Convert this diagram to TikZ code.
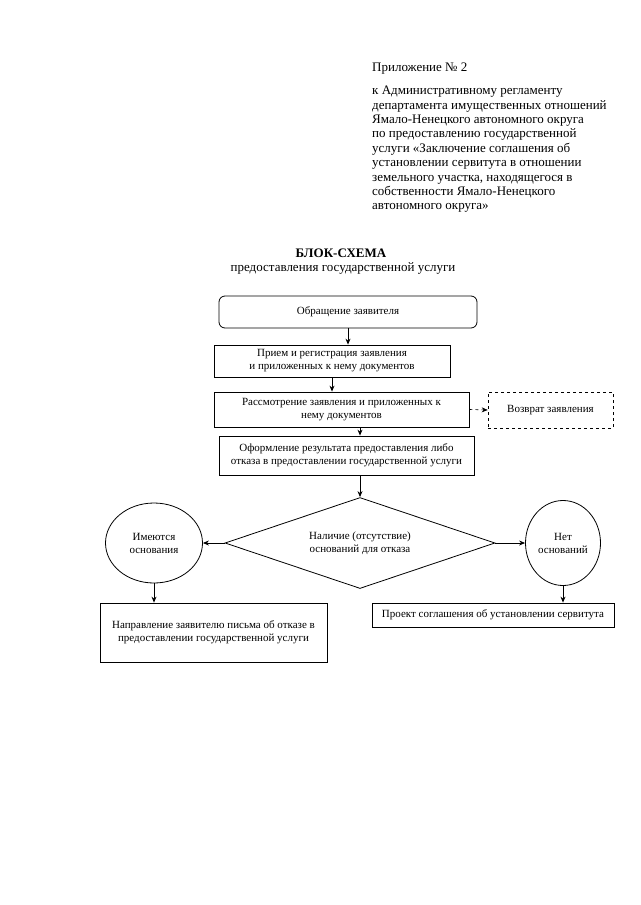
\documentclass[tikz,border=0pt]{standalone}
\usepackage{fontspec}
\setmainfont{Liberation Serif}
\usetikzlibrary{positioning,arrows.meta,shapes.geometric}

\begin{document}
\begin{tikzpicture}[x=1pt,y=-1pt,>={Stealth[length=6pt,width=5pt]},
  every node/.style={font=\fontsize{11}{13}\selectfont},
  stepbox/.style={draw,line width=0.8pt,align=center,inner sep=1pt},
  oval/.style={draw,ellipse,line width=0.8pt,align=center,inner sep=0pt}]
\useasboundingbox (0,0) rectangle (640,905);
\node[anchor=west,inner sep=0pt,font=\fontsize{13}{14.4}\selectfont] (annex) at (372,69) {Приложение №~2};
\node[anchor=north west,inner sep=0pt,align=left,font=\fontsize{13}{14.4}\selectfont] (regl) at (372,86) {к Административному регламенту\\
департамента имущественных отношений\\
Ямало-Ненецкого автономного округа\\
по предоставлению государственной\\
услуги «Заключение соглашения об\\
установлении сервитута в отношении\\
земельного участка, находящегося в\\
собственности Ямало-Ненецкого\\
автономного округа»};
\node[font=\bfseries\fontsize{13}{15}\selectfont] (title) at (341,253) {БЛОК-СХЕМА};
\node[font=\fontsize{13}{15}\selectfont] (subtitle) at (343,268) {предоставления государственной услуги};
\node[stepbox,rounded corners=6pt,minimum width=258,minimum height=32] (apply) at (348,312) {Обращение заявителя};
\node[stepbox,minimum width=236,minimum height=32] (intake) at (332,361) {Прием и регистрация заявления\\ и приложенных к нему документов};
\node[stepbox,minimum width=255,minimum height=35] (review) at (341.5,409.5) {Рассмотрение заявления и приложенных к\\ нему документов};
\node[stepbox,dashed,line width=0.6pt,minimum width=125,minimum height=36] (back) at (550.5,410) {Возврат заявления};
\node[stepbox,minimum width=255,minimum height=39] (result) at (346.5,455.5) {Оформление результата предоставления либо\\ отказа в предоставлении государственной услуги};
\node[draw,diamond,aspect=3,line width=0.8pt,align=center,inner sep=0pt,minimum width=270,minimum height=91] (check) at (360,543) {Наличие (отсутствие)\\ оснований для отказа};
\node[oval,minimum width=97,minimum height=80] (grounds) at (154,543) {Имеются\\ основания};
\node[oval,minimum width=75,minimum height=85] (nogrounds) at (563,543) {Нет\\ оснований};
\node[stepbox,minimum width=227,minimum height=59] (refusal) at (213.5,632.5) {Направление заявителю письма об отказе в\\ предоставлении государственной услуги};
\node[stepbox,minimum width=242,minimum height=24] (project) at (493,615) {Проект соглашения об установлении сервитута};
\draw[->,line width=0.8pt] (apply.south) -- (apply.south |- intake.north);
\draw[->,line width=0.8pt] (intake.south) -- (intake.south |- review.north);
\draw[->,line width=0.8pt] (review.south -| check) -- (result.north -| check);
\draw[->,line width=0.6pt,dashed] (review.east) -- (back.west);
\draw[->,line width=0.8pt] (result.south -| check) -- (check.north);
\draw[->,line width=0.8pt] (check.west) -- (grounds.east);
\draw[->,line width=0.8pt] (check.east) -- (nogrounds.west);
\draw[->,line width=0.8pt] (grounds.south) -- (grounds.south |- refusal.north);
\draw[->,line width=0.8pt] (nogrounds.south) -- (nogrounds.south |- project.north);
\end{tikzpicture}
\end{document}
